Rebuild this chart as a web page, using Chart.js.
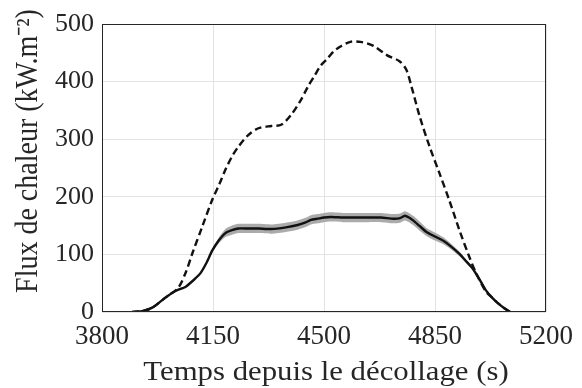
<!DOCTYPE html>
<html>
<head>
<meta charset="utf-8">
<script src="https://cdn.jsdelivr.net/npm/chart.js@4/dist/chart.umd.min.js"></script>
<style>
  html, body { margin: 0; padding: 0; background: #fff; }
  #wrap { width: 582px; height: 388px; }
</style>
</head>
<body>
<div id="wrap"><canvas id="chart"></canvas></div>
<script>
// Courbe en pointillés
const timeDash = [3895, 3930, 3960, 4000, 4040, 4065, 4085, 4116, 4147, 4170, 4189, 4210, 4230, 4261, 4293, 4334, 4365, 4396, 4427, 4450, 4469, 4490, 4511, 4530, 4552, 4583, 4615, 4656, 4698, 4739, 4760, 4776, 4802, 4833, 4864, 4895, 4927, 4958, 4980, 5010, 5030, 5051, 5070, 5088];
const fluxDash = [0, 2, 8, 25, 42, 70, 102, 148, 194, 222, 247, 270, 287, 307, 319, 323, 325, 342, 368, 392, 409, 428, 440, 452, 461, 469, 469, 462, 446, 435, 420, 391, 339, 287, 241, 194, 142, 96, 67, 36, 25, 14, 6, 0];

// Courbe pleine et bande grise
const timeSolid = [3895, 3930, 3960, 4000, 4030, 4064, 4090, 4110, 4130, 4147, 4168, 4189, 4210, 4230, 4260, 4293, 4334, 4380, 4417, 4440, 4459, 4480, 4500, 4521, 4560, 4600, 4640, 4680, 4719, 4740, 4755, 4768, 4781, 4800, 4823, 4850, 4875, 4900, 4927, 4950, 4968, 4990, 5010, 5030, 5051, 5070, 5088];
const fluxSolid = [0, 2, 8, 25, 36, 44, 56, 67, 86, 106, 124, 137, 142, 145, 145, 145, 144, 147, 151, 155, 160, 162, 164, 165, 164, 164, 164, 164, 162, 163, 167, 164, 159, 150, 139, 131, 124, 114, 101, 87, 76, 57, 38, 25, 14, 6, 0];
const bandLow = [0, 2, 8, 24, 35, 43, 54, 65, 84, 103, 119, 130, 134, 137, 137, 137, 136, 139, 143, 147, 152, 154, 156, 157, 156, 156, 156, 156, 154, 155, 159, 156, 151, 142, 132, 124, 118, 109, 97, 84, 73, 55, 37, 24, 14, 6, 0];
const bandHigh = [0, 2, 8, 26, 37, 45, 58, 69, 88, 109, 129, 144, 150, 153, 153, 153, 152, 155, 159, 163, 168, 170, 172, 173, 172, 172, 172, 172, 170, 171, 175, 172, 167, 158, 146, 138, 130, 119, 105, 90, 79, 59, 39, 26, 14, 6, 0];

const xTicks = [3800, 4150, 4500, 4850, 5200];
const yTicks = [0, 100, 200, 300, 400, 500];

const xTitle = 'Temps depuis le décollage (s)';
const yTitle = 'Flux de chaleur (kW.m⁻²)';

function pts(xs, ys) {
    return xs.map((x, i) => ({ x: x, y: ys[i] }));
}

const txt = '#262626';
const serif = "'Liberation Serif', 'Times New Roman', serif";

// cadre autour de la zone de tracé + titres des axes (texte un peu étiré comme l'original)
const boxPlugin = {
    id: 'box',
    afterDraw(chart) {
        const a = chart.chartArea;
        const ctx = chart.ctx;
        ctx.save();
        ctx.strokeStyle = txt;
        ctx.lineWidth = 1;
        ctx.strokeRect(a.left + 0.5, a.top + 0.5, a.right - a.left - 1, a.bottom - a.top - 1);

        ctx.fillStyle = txt;
        ctx.textAlign = 'center';
        ctx.textBaseline = 'alphabetic';

        // titre x
        ctx.save();
        ctx.font = '27px ' + serif;
        ctx.translate((a.left + a.right) / 2 + 2, 380);
        ctx.scale(1.14, 1);
        ctx.fillText(xTitle, 0, 0);
        ctx.restore();

        // titre y
        ctx.save();
        ctx.font = '28px ' + serif;
        ctx.translate(37, 151);
        ctx.rotate(-Math.PI / 2);
        ctx.scale(1, 1.1);
        ctx.fillText(yTitle, 0, 0);
        ctx.restore();

        ctx.restore();
    }
};

new Chart(document.getElementById('chart'), {
    type: 'line',
    data: {
        datasets: [
            {
                data: pts(timeDash, fluxDash),
                borderColor: '#111',
                borderWidth: 2.4,
                borderDash: [7, 4],
                pointRadius: 0,
                tension: 0.3,
                fill: false
            },
            {
                data: pts(timeSolid, fluxSolid),
                borderColor: '#111',
                borderWidth: 2.4,
                pointRadius: 0,
                tension: 0.2,
                fill: false
            },
            {
                data: pts(timeSolid, bandHigh),
                borderColor: 'rgba(0,0,0,0)',
                borderWidth: 0,
                backgroundColor: '#ababab',
                pointRadius: 0,
                tension: 0.2,
                fill: '+1'
            },
            {
                data: pts(timeSolid, bandLow),
                borderColor: 'rgba(0,0,0,0)',
                borderWidth: 0,
                pointRadius: 0,
                tension: 0.2,
                fill: false
            }
        ]
    },
    options: {
        responsive: true,
        maintainAspectRatio: false,
        animation: false,
        layout: { padding: { top: 24, right: 31, left: 0, bottom: 0 } },
        plugins: { legend: { display: false }, tooltip: { enabled: false } },
        scales: {
            x: {
                type: 'linear',
                min: 3800,
                max: 5200,
                afterBuildTicks: (s) => { s.ticks = xTicks.map(v => ({ value: v })); },
                afterFit: (s) => { s.height = 76; },
                ticks: {
                    color: txt,
                    font: { family: serif, size: 27 },
                    padding: 9,
                    maxRotation: 0,
                    callback: (v) => String(v)
                },
                grid: { color: '#e3e3e3', drawTicks: false },
                border: { display: false }
            },
            y: {
                min: 0,
                max: 500,
                afterBuildTicks: (s) => { s.ticks = yTicks.map(v => ({ value: v })); },
                afterFit: (s) => { s.width = 102; },
                ticks: {
                    color: txt,
                    font: { family: serif, size: 26 },
                    padding: 8,
                    callback: (v) => String(v)
                },
                grid: { color: '#e3e3e3', drawTicks: false },
                border: { display: false }
            }
        }
    },
    plugins: [boxPlugin]
});
</script>
</body>
</html>
